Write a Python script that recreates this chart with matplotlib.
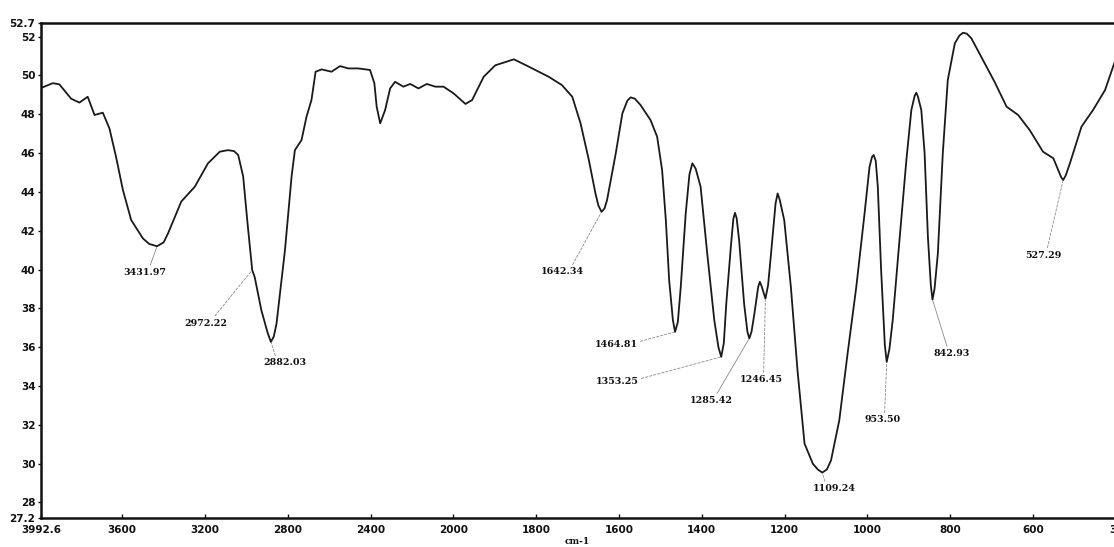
import numpy as np
import matplotlib
matplotlib.use("Agg")
import matplotlib.pyplot as plt

# FT-IR spectrum: wavenumber (cm-1) and transmittance (%T)
wavenumber = [
    3992.6, 3936, 3904, 3847, 3807, 3767, 3734, 3694, 3662, 3630,
    3597, 3557, 3500, 3470, 3431.97, 3400, 3379, 3315, 3250, 3186,
    3129, 3089, 3060, 3040, 3016, 2995, 2972.22, 2960, 2928, 2898,
    2882.03, 2868, 2855, 2814, 2782, 2766, 2734, 2710, 2686, 2666,
    2637, 2589, 2548, 2508, 2460, 2403, 2382, 2371, 2354, 2330,
    2306, 2282, 2242, 2209, 2169, 2129, 2088, 2048, 2000, 1971,
    1955, 1927, 1899, 1854, 1818, 1770, 1738, 1713, 1693, 1673,
    1657, 1650, 1642.34, 1635, 1629, 1608, 1592, 1580, 1572, 1562,
    1548, 1524, 1508, 1496, 1487, 1479, 1470, 1464.81, 1458, 1451,
    1439, 1430, 1423, 1415, 1403, 1387, 1370, 1360, 1353.25, 1347,
    1341, 1330, 1324, 1320, 1316, 1310, 1298, 1290, 1285.42, 1280,
    1273, 1264, 1260, 1255, 1246.45, 1240, 1233, 1222, 1217, 1212,
    1201, 1185, 1169, 1152, 1132, 1120, 1109.24, 1098, 1088, 1068,
    1048, 1027, 1007, 995, 989, 985, 980, 975, 967, 958,
    953.50, 947, 939, 922, 906, 894, 886, 882, 878, 870,
    862, 854, 847, 842.93, 838, 830, 818, 806, 789, 778,
    769, 760, 749, 721, 693, 664, 636, 608, 576, 551,
    539, 532, 527.29, 521, 511, 483, 455, 426, 404, 390,
]
transmittance = [
    49.35, 49.60, 49.54, 48.80, 48.60, 48.90, 47.96, 48.08, 47.27, 45.80,
    44.10, 42.55, 41.60, 41.32, 41.20, 41.40, 41.86, 43.50, 44.26, 45.47,
    46.07, 46.15, 46.10, 45.90, 44.80, 42.40, 39.97, 39.60, 37.90, 36.75,
    36.27, 36.55, 37.20, 41.00, 44.80, 46.15, 46.67, 47.87, 48.73, 50.19,
    50.31, 50.19, 50.48, 50.36, 50.36, 50.28, 49.59, 48.39, 47.53, 48.22,
    49.33, 49.67, 49.42, 49.56, 49.33, 49.56, 49.42, 49.42, 49.08, 48.53,
    48.73, 49.93, 50.52, 50.83, 50.45, 49.93, 49.50, 48.90, 47.53, 45.64,
    43.92, 43.30, 42.97, 43.15, 43.58, 45.98, 48.04, 48.70, 48.87, 48.80,
    48.47, 47.70, 46.84, 45.12, 42.54, 39.45, 37.40, 36.79, 37.30, 39.10,
    42.89, 44.90, 45.47, 45.20, 44.26, 40.82, 37.39, 36.00, 35.50, 36.20,
    38.25, 41.17, 42.60, 42.92, 42.65, 41.51, 38.25, 36.80, 36.45, 36.80,
    37.74, 39.10, 39.37, 39.10, 38.50, 39.20, 40.80, 43.40, 43.92, 43.60,
    42.54, 39.10, 34.81, 31.03, 30.00, 29.70, 29.54, 29.70, 30.17, 32.24,
    35.67, 39.10, 42.89, 45.29, 45.80, 45.90, 45.60, 44.26, 39.97, 36.10,
    35.24, 35.90, 37.39, 41.68, 45.64, 48.22, 48.95, 49.11, 48.90, 48.22,
    46.00, 41.68, 39.20, 38.45, 39.00, 40.82, 46.00, 49.76, 51.65, 52.05,
    52.20, 52.15, 51.91, 50.79, 49.67, 48.39, 47.96, 47.18, 46.07, 45.73,
    45.12, 44.75, 44.61, 44.85, 45.47, 47.36, 48.22, 49.25, 50.63, 51.40,
]

# Labelled bands (cm-1)
peak_positions = [3431.97, 2972.22, 2882.03, 1642.34, 1464.81, 1353.25,
                  1285.42, 1246.45, 1109.24, 953.50, 842.93, 527.29]

x_ticks = [3992.6, 3600, 3200, 2800, 2400, 2000, 1800, 1600, 1400, 1200,
           1000, 800, 600, 390]
x_tick_labels = ["3992.6", "3600", "3200", "2800", "2400", "2000", "1800",
                 "1600", "1400", "1200", "1000", "800", "600", "390"]
y_ticks = [52.7, 52, 50, 48, 46, 44, 42, 40, 38, 36, 34, 32, 30, 28, 27.2]
y_tick_labels = ["52.7", "52", "50", "48", "46", "44", "42", "40", "38",
                 "36", "34", "32", "30", "28", "27.2"]

# Callout layout per band: text offset (pixels), anchor on the text, leader style
callout_layout = [
    ((-12, -26), (0.6, 1.0), "solid"),
    ((-46, -53), (0.65, 1.0), "dashed"),
    ((14, -21), (0.3, 1.0), "dashed"),
    ((-39, -60), (0.7, 1.0), "dashed"),
    ((-59, -13), (1.0, 0.8), "dashed"),
    ((-104, -25), (1.0, 0.8), "dashed"),
    ((-38, -62), (0.6, 1.0), "solid"),
    ((-4, -81), (0.55, 1.0), "dashed"),
    ((12, -16), (0.3, 1.0), "dashed"),
    ((-4, -58), (0.55, 1.0), "dashed"),
    ((19, -54), (0.4, 1.0), "solid"),
    ((-20, -75), (0.6, 1.0), "dashed"),
]


# Instrument-style abscissa: the range above 2000 cm-1 is compressed 2:1
def compress(x):
    x = np.asarray(x, dtype=float)
    return np.where(x > 2000, 2000 + (x - 2000) / 2.0, x)


def expand(t):
    t = np.asarray(t, dtype=float)
    return np.where(t > 2000, 2000 + (t - 2000) * 2.0, t)


W, H = 1114, 547
fig = plt.figure(figsize=(W / 100, H / 100), dpi=100)
fig.patch.set_facecolor("white")
ax = fig.add_axes([41 / W, 29 / H, 1079 / W, 495 / H])

ax.set_xscale("function", functions=(compress, expand))
ax.plot(wavenumber, transmittance, color="#1a1a1a", lw=1.3,
        solid_joinstyle="round", solid_capstyle="round")

ax.set_xlim(3992.6, 390)
ax.set_ylim(27.2, 52.7)

ax.set_xticks(x_ticks)
ax.set_xticklabels(x_tick_labels)
ax.set_yticks(y_ticks)
ax.set_yticklabels(y_tick_labels)
ax.minorticks_off()
ax.tick_params(axis="x", direction="in", length=3, width=1, pad=5,
               labelsize=7.5, colors="#111111")
ax.tick_params(axis="y", direction="out", length=2.5, width=1, pad=1.5,
               labelsize=7.5, colors="#111111")
for lab in ax.get_xticklabels() + ax.get_yticklabels():
    lab.set_fontweight("bold")
    lab.set_family("DejaVu Sans")

for side in ("top", "left", "bottom"):
    ax.spines[side].set_linewidth(1.8)
    ax.spines[side].set_color("#111111")
ax.spines["right"].set_visible(False)

# Band callouts with thin grey leaders
for wn, (offset, anchor, style) in zip(peak_positions, callout_layout):
    t = transmittance[wavenumber.index(wn)]
    ax.annotate(
        f"{wn:.2f}", xy=(wn, t), xycoords="data",
        xytext=offset, textcoords="offset pixels",
        ha="center", va="center", fontsize=6.8, fontweight="bold",
        family="DejaVu Serif", color="#111111",
        arrowprops=dict(arrowstyle="-", color="#8a8a8a", lw=0.6,
                        linestyle=(0, (3, 2)) if style == "dashed" else "-",
                        shrinkA=0, shrinkB=1, relpos=anchor),
    )

fig.text(577 / W, (H - 541) / H, "cm-1", ha="center", va="center",
         fontsize=6.5, fontweight="bold", family="DejaVu Serif",
         color="#111111")

fig.savefig("out.png", dpi=100, facecolor="white")
